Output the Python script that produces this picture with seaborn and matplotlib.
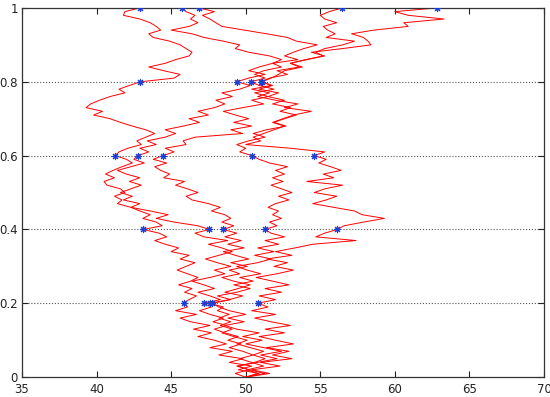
import numpy as np
import pandas as pd
import seaborn as sns
import matplotlib
matplotlib.use('Agg')
import matplotlib.pyplot as plt

# five sample paths, x value at t = 0, 0.01, ..., 1
p1 = [50.0, 50.9, 49.5, 50.4, 48.9, 49.8, 48.2, 49.1, 47.6, 48.7, 47.9, 46.8, 47.7, 46.5, 47.6, 46.3, 45.6, 46.7, 45.3, 46.1, 45.83,
      46.2, 46.7, 45.9, 46.4, 45.5, 46.3, 46.8, 46.1, 45.4, 46.0, 46.6, 45.6, 46.2, 45.0, 45.5, 44.6, 43.9, 44.7, 44.2, 43.12,
      44.4, 44.0, 43.1, 43.6, 42.9, 42.3, 41.4, 41.7, 41.2, 41.9, 41.6, 40.7, 40.5, 41.2, 40.6, 41.1, 41.7, 42.4, 42.0, 41.26,
      41.5, 42.1, 43.0, 42.7, 43.3, 43.9, 43.3, 42.4, 41.6, 40.9, 39.8, 40.4, 39.3, 39.6, 40.2, 40.9, 41.9, 41.5, 42.2, 42.94,
      45.2, 45.6, 44.5, 43.5, 44.6, 45.3, 46.2, 46.4, 46.0, 45.6, 44.9, 43.8, 43.5, 44.3, 44.0, 43.6, 42.9, 41.8, 41.9, 42.9]
p2 = [50.0, 50.8, 50.1, 51.2, 50.4, 49.6, 50.5, 49.8, 48.9, 49.7, 48.8, 49.5, 48.6, 47.9, 48.7, 47.8, 48.5, 47.6, 46.9, 47.7, 47.18,
      48.3, 47.6, 46.8, 47.9, 47.2, 46.4, 47.6, 48.6, 47.9, 49.0, 48.1, 47.3, 48.2, 49.1, 48.4, 47.5, 48.8, 47.2, 46.6, 47.56,
      46.8, 45.2, 44.0, 44.8, 43.6, 42.3, 42.9, 41.8, 42.4, 41.6, 42.3, 43.0, 42.2, 42.9, 42.0, 41.4, 42.3, 43.2, 42.5, 42.76,
      43.5, 42.9, 44.0, 43.4, 44.6, 45.3, 44.6, 45.8, 46.9, 46.2, 47.5, 46.8, 47.9, 48.6, 48.0, 49.1, 48.4, 49.6, 50.3, 49.4,
      50.2, 51.3, 50.2, 50.9, 51.8, 52.4, 51.6, 50.2, 49.3, 49.6, 48.5, 47.2, 46.4, 45.0, 46.2, 46.8, 46.3, 46.6, 46.0, 45.75]
p3 = [50.0, 49.3, 50.2, 49.5, 50.6, 51.3, 50.5, 51.2, 50.3, 49.4, 50.1, 49.2, 48.4, 49.1, 48.3, 49.0, 48.2, 48.9, 48.1, 48.5, 47.6,
      48.9, 49.8, 48.6, 49.5, 50.3, 49.2, 48.4, 49.6, 48.9, 50.1, 49.0, 50.2, 49.3, 48.5, 49.9, 48.8, 49.7, 48.6, 49.4, 48.5,
      49.2, 48.4, 49.0, 48.6, 47.7, 48.3, 47.5, 46.4, 46.0, 46.8, 46.1, 45.3, 45.9, 44.5, 44.9, 44.3, 43.9, 44.7, 43.8, 44.44,
      45.2, 44.6, 46.0, 45.8, 46.6, 49.8, 49.0, 50.4, 49.2, 50.2, 49.3, 48.5, 49.8, 51.2, 50.4, 51.5, 50.6, 51.9, 50.9, 50.34,
      51.3, 50.6, 51.2, 52.4, 51.8, 53.5, 52.6, 53.2, 53.9, 54.8, 53.4, 52.8, 51.4, 49.9, 48.4, 48.0, 47.6, 47.1, 47.9, 46.87]
p4 = [50.0, 51.3, 50.2, 49.4, 50.8, 52.1, 51.0, 52.4, 51.2, 50.0, 51.1, 49.8, 50.9, 49.4, 48.6, 49.9, 48.8, 50.0, 48.9, 48.2, 47.75,
      49.0, 48.1, 49.4, 50.3, 49.2, 50.5, 49.6, 51.0, 50.1, 49.4, 50.8, 51.7, 50.6, 51.9, 50.8, 52.2, 51.3, 52.6, 51.7, 51.29,
      52.1, 51.6, 52.4, 51.8, 52.2, 51.5, 52.0, 52.9, 52.2, 53.1, 52.4, 51.7, 52.5, 51.8, 52.6, 52.0, 52.8, 51.6, 50.9, 50.43,
      49.6, 50.0, 49.4, 50.2, 51.3, 50.5, 51.4, 52.7, 51.9, 52.6, 53.4, 52.3, 53.0, 51.8, 52.6, 51.5, 52.2, 50.9, 51.8, 51.0,
      51.6, 52.8, 52.1, 53.6, 53.0, 54.1, 55.2, 54.7, 55.3, 56.5, 57.3, 55.4, 56.0, 55.5, 55.2, 56.1, 55.3, 55.0, 55.6, 56.47]
p5 = [50.0, 51.6, 50.4, 52.3, 51.0, 53.1, 51.8, 52.9, 51.4, 53.2, 52.0, 50.9, 52.6, 51.3, 53.0, 51.7, 50.6, 52.0, 50.4, 51.5, 50.81,
      52.0, 50.9, 52.4, 51.3, 52.9, 51.8, 50.7, 52.1, 53.2, 51.9, 52.8, 51.4, 53.1, 52.0, 53.3, 54.5, 57.4, 54.7, 55.3, 56.13,
      56.6, 57.9, 59.3, 57.8, 57.3, 55.9, 54.5, 55.4, 56.1, 54.6, 55.3, 56.5, 54.1, 55.9, 55.2, 56.4, 55.7, 54.9, 55.4, 54.6,
      55.3, 53.0, 50.0, 51.0, 50.5, 51.2, 51.9, 52.6, 51.8, 52.5, 53.2, 54.4, 52.6, 53.5, 52.0, 50.8, 51.6, 50.4, 51.7, 51.1,
      51.7, 52.2, 52.6, 53.8, 53.0, 54.0, 55.3, 54.4, 56.5, 58.4, 58.2, 57.9, 57.1, 58.6, 60.9, 60.6, 63.3, 60.9, 60.0, 62.8]

paths = [p1, p2, p3, p4, p5]
t = np.arange(101) / 100
sample_idx = [20, 40, 60, 80, 100]
xticks = [35, 40, 45, 50, 55, 60, 65, 70]
yticks = [0, 0.2, 0.4, 0.6, 0.8, 1]
ylabels = ['0', '0.2', '0.4', '0.6', '0.8', '1']

rows = []
for k, p in enumerate(paths):
    for i, v in enumerate(p):
        rows.append((k, t[i], v))
df = pd.DataFrame(rows, columns=['path', 't', 'x'])
marks = df[df['t'].round(2).isin([i / 100 for i in sample_idx])]

sns.set_style('ticks')
plt.rcParams['font.family'] = ['DejaVu Sans']
plt.rcParams['xtick.direction'] = 'in'
plt.rcParams['ytick.direction'] = 'in'

fig = plt.figure(figsize=(5.5, 3.97), dpi=100)
ax = fig.add_axes([0.04, 0.05, 0.949, 0.93])

sns.lineplot(data=df, x='x', y='t', units='path', estimator=None, orient='y',
             color='red', linewidth=0.7, ax=ax, legend=False)
ax.scatter(marks['x'], marks['t'], marker=(8, 2, 0), s=20, color='#1f3fd0',
           linewidths=0.8, zorder=5)

for yv in yticks[1:-1]:
    ax.axhline(yv, color='#555555', linestyle=':', linewidth=0.8, zorder=0)

ax.set_xlim(35, 70)
ax.set_ylim(0, 1)
ax.set_xticks(xticks)
ax.set_yticks(yticks)
ax.set_yticklabels(ylabels)
ax.set_xlabel('')
ax.set_ylabel('')
ax.tick_params(top=True, right=True, length=4, width=0.8, labelsize=8.5, colors='#222222')
ax.tick_params(axis='x', pad=4)
ax.tick_params(axis='y', pad=3)
for s in ax.spines.values():
    s.set_color('#333333')
    s.set_linewidth(0.9)

fig.savefig('out.png', dpi=100)
